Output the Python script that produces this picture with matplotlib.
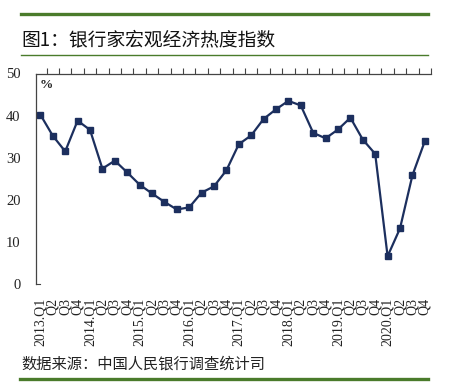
import matplotlib
matplotlib.use("Agg")
import matplotlib.pyplot as plt
from matplotlib.lines import Line2D

# quarters 2013.Q1 .. 2020.Q4
years = [2013, 2014, 2015, 2016, 2017, 2018, 2019, 2020]
quarters = ["Q1", "Q2", "Q3", "Q4"]
tick_labels = []
for y in years:
    for q in quarters:
        tick_labels.append(f"{y}.{q}" if q == "Q1" else q)

# banker macro-economic heat index (%)
values = [40.2, 35.2, 31.5, 38.8, 36.6, 27.4, 29.3, 26.5,
          23.6, 21.5, 19.5, 17.7, 18.2, 21.7, 23.2, 27.0,
          33.2, 35.3, 39.2, 41.5, 43.5, 42.4, 35.9, 34.6,
          36.7, 39.5, 34.3, 30.9, 6.6, 13.2, 25.8, 33.9]

title = "图1：银行家宏观经济热度指数"
source = "数据来源：中国人民银行调查统计司"

green = "#4a7b2b"
navy = "#1c2f5e"

W, H = 449, 382
fig = plt.figure(figsize=(W / 100, H / 100), dpi=100)
fig.patch.set_facecolor("white")

def fx(px):
    return px / W

def fy(py):
    return 1 - py / H

# green rules and texts
fig.add_artist(Line2D([fx(21), fx(428)], [fy(14), fy(14)], color=green, lw=2.4))
fig.add_artist(Line2D([fx(21), fx(428)], [fy(55), fy(55)], color=green, lw=1.0))
fig.add_artist(Line2D([fx(20), fx(428)], [fy(379), fy(379)], color=green, lw=2.4))
fig.text(fx(21), fy(40), title, fontsize=13.5, va="center", ha="left",
         family=["Noto Sans CJK SC", "DejaVu Sans"], color="#111111")
fig.text(fx(21), fy(364), source, fontsize=11, va="center", ha="left",
         family=["Noto Sans CJK SC", "DejaVu Sans"], color="#222222")

ax = fig.add_axes([fx(35.7), fy(284), fx(431) - fx(35.7), fy(73.5) - fy(284)])
x = list(range(len(values)))
ax.plot(x, values, color=navy, lw=1.6, marker="s", ms=3.8, mfc=navy, mec=navy)

ax.set_xlim(-0.38, len(values) - 0.5)
ax.set_ylim(0, 50)

for s in ["right", "bottom"]:
    ax.spines[s].set_visible(False)
for s in ["left", "top"]:
    ax.spines[s].set_color("#444444")
    ax.spines[s].set_linewidth(0.9)

ax.set_yticks(range(0, 51, 10))
ax.set_yticklabels([str(v) for v in range(0, 51, 10)], family="Liberation Serif",
                   fontsize=10.5, color="#222222")
ax.tick_params(axis="y", length=0, pad=11)
# small mark at the foot of the value axis
ax.plot([-0.38, -0.05], [0, 0], color="#444444", lw=0.8, clip_on=False)

# category labels at bottom, boundary ticks on top spine
ax.set_xticks(x)
ax.set_xticklabels(tick_labels, rotation=90, family="Liberation Serif",
                   fontsize=10, color="#222222", va="top")
ax.tick_params(axis="x", which="major", length=0, pad=10)
ax.set_xticks([i - 0.5 for i in range(1, len(values) + 1)], minor=True)
ax.tick_params(axis="x", which="minor", top=True, bottom=False, direction="out",
               length=4, color="#444444", width=0.8)

ax.text(0.01, 0.975, "%", transform=ax.transAxes, ha="left", va="top",
        family="Liberation Serif", fontsize=9.5, fontweight="bold", color="#222222")

fig.savefig("out.png", dpi=100, facecolor="white")
